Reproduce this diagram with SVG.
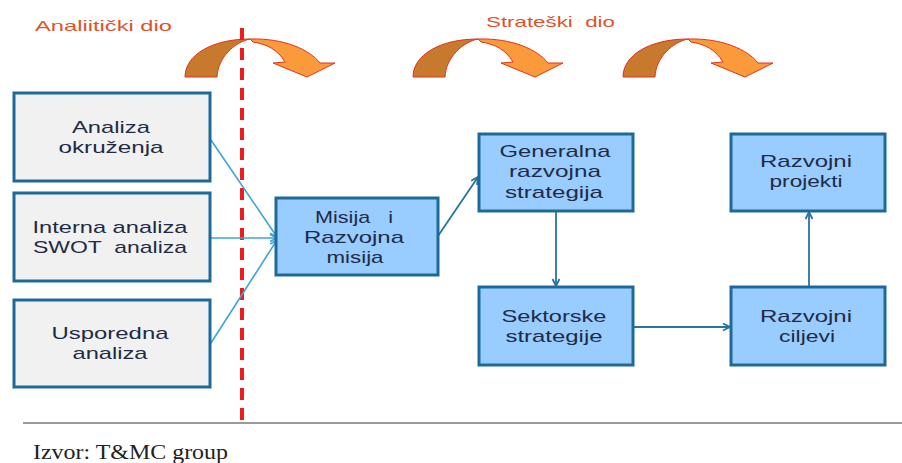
<svg xmlns="http://www.w3.org/2000/svg" width="902" height="463" viewBox="0 0 902 463">
<defs>
<style>
.gray{fill:#f1f1f1;stroke:#1d6a9a;stroke-width:3}
.blue{fill:#99ccff;stroke:#1d6a9a;stroke-width:3}
.t{font-family:"Liberation Sans",Arial,sans-serif;font-size:17px;fill:#1f2b45;text-anchor:middle;white-space:pre}
.hdr{font-family:"Liberation Sans",Arial,sans-serif;font-size:15px;fill:#e0532a;white-space:pre}
.c1{stroke:#3aa6d6;stroke-width:1.6;fill:none}
.c2{stroke:#26749f;stroke-width:1.8;fill:none}
.dark{fill:#c77a2e;stroke:#e2321c;stroke-width:1}
.light{fill:#fb9a3a;stroke:#e2321c;stroke-width:1}
</style>
<marker id="a1" markerWidth="10" markerHeight="10" refX="8" refY="4" orient="auto" markerUnits="userSpaceOnUse">
<path d="M1,0.5 L8,4 L1,7.5" fill="none" stroke="#3aa6d6" stroke-width="1.6"/>
</marker>
<marker id="a2" markerWidth="10" markerHeight="10" refX="8" refY="4" orient="auto" markerUnits="userSpaceOnUse">
<path d="M1,0.5 L8,4 L1,7.5" fill="none" stroke="#26749f" stroke-width="1.8"/>
</marker>
<g id="curved">
<path class="dark" d="M0,77 C0,55 27,39 65,39 C50,42 33,57 32,77 Z"/>
<path class="light" d="M65,39 C100,38 125,50 135,63 L150,63 L122,77 L88,63 L100,62 C93,50 82,44 68,42 Z"/>
</g>
</defs>
<rect width="902" height="463" fill="#ffffff"/>

<g id="headers">
<text class="hdr" x="35" y="31" textLength="137" lengthAdjust="spacingAndGlyphs">Analiitički dio</text>
<text class="hdr" x="486" y="27" textLength="129" lengthAdjust="spacingAndGlyphs">Strateški  dio</text>
</g>

<g id="curved-arrows">
<use href="#curved" x="185" y="0"/>
<use href="#curved" x="413" y="0"/>
<use href="#curved" x="623" y="0"/>
</g>

<g id="baseline">
<line x1="23" y1="423" x2="902" y2="423" stroke="#9a9a9a" stroke-width="2"/>
</g>

<g id="divider">
<line x1="242" y1="28" x2="242" y2="423" stroke="#ee1c1c" stroke-width="4" stroke-dasharray="12,8"/>
</g>

<g id="connectors">
<line class="c1" x1="211" y1="140" x2="277" y2="237" marker-end="url(#a1)"/>
<line class="c1" x1="211" y1="238" x2="277" y2="238" marker-end="url(#a1)"/>
<line class="c1" x1="211" y1="343" x2="277" y2="240" marker-end="url(#a1)"/>
<line class="c2" x1="438" y1="236" x2="478" y2="177" marker-end="url(#a2)"/>
<line class="c2" x1="556" y1="212" x2="556" y2="286" marker-end="url(#a2)"/>
<line class="c2" x1="634" y1="327" x2="730" y2="327" marker-end="url(#a2)"/>
<line class="c2" x1="809" y1="286" x2="809" y2="212" marker-end="url(#a2)"/>
</g>

<g id="n-okruzenje">
<rect class="gray" x="14" y="93" width="196" height="88"/>
<text class="t" x="111" y="133" textLength="78" lengthAdjust="spacingAndGlyphs">Analiza</text>
<text class="t" x="111" y="153" textLength="105" lengthAdjust="spacingAndGlyphs">okruženja</text>
</g>
<g id="n-interna">
<rect class="gray" x="14" y="193" width="196" height="88"/>
<text class="t" x="110" y="233" textLength="155" lengthAdjust="spacingAndGlyphs">Interna analiza</text>
<text class="t" x="110" y="253" textLength="154" lengthAdjust="spacingAndGlyphs">SWOT  analiza</text>
</g>
<g id="n-usporedna">
<rect class="gray" x="14" y="300" width="196" height="87"/>
<text class="t" x="110" y="339" textLength="117" lengthAdjust="spacingAndGlyphs">Usporedna</text>
<text class="t" x="110" y="359" textLength="75" lengthAdjust="spacingAndGlyphs">analiza</text>
</g>
<g id="n-misija">
<rect class="blue" x="276" y="198" width="162" height="77"/>
<text class="t" x="354" y="223" textLength="78" lengthAdjust="spacingAndGlyphs">Misija   i</text>
<text class="t" x="354" y="243" textLength="100" lengthAdjust="spacingAndGlyphs">Razvojna</text>
<text class="t" x="355" y="263" textLength="57" lengthAdjust="spacingAndGlyphs">misija</text>
</g>
<g id="n-generalna">
<rect class="blue" x="479" y="134" width="154" height="77"/>
<text class="t" x="555" y="157" textLength="111" lengthAdjust="spacingAndGlyphs">Generalna</text>
<text class="t" x="555" y="177" textLength="92" lengthAdjust="spacingAndGlyphs">razvojna</text>
<text class="t" x="554" y="198" textLength="98" lengthAdjust="spacingAndGlyphs">strategija</text>
</g>
<g id="n-projekti">
<rect class="blue" x="731" y="134" width="154" height="77"/>
<text class="t" x="806" y="167" textLength="92" lengthAdjust="spacingAndGlyphs">Razvojni</text>
<text class="t" x="806" y="187" textLength="73" lengthAdjust="spacingAndGlyphs">projekti</text>
</g>
<g id="n-sektorske">
<rect class="blue" x="479" y="287" width="154" height="78"/>
<text class="t" x="554" y="322" textLength="105" lengthAdjust="spacingAndGlyphs">Sektorske</text>
<text class="t" x="554" y="342" textLength="97" lengthAdjust="spacingAndGlyphs">strategije</text>
</g>
<g id="n-ciljevi">
<rect class="blue" x="731" y="287" width="154" height="78"/>
<text class="t" x="806" y="322" textLength="92" lengthAdjust="spacingAndGlyphs">Razvojni</text>
<text class="t" x="807" y="342" textLength="56" lengthAdjust="spacingAndGlyphs">ciljevi</text>
</g>

<g id="source">
<text x="33" y="459" font-family="'Liberation Serif','Times New Roman',serif" font-size="20" fill="#222" textLength="195" lengthAdjust="spacingAndGlyphs">Izvor: T&amp;MC group</text>
</g>
</svg>
